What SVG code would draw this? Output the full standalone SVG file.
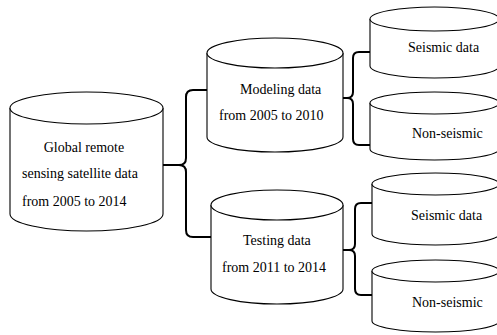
<svg xmlns="http://www.w3.org/2000/svg" width="497" height="335" viewBox="0 0 497 335">
  <style>
    .cyl { fill: #ffffff; stroke: #000000; stroke-width: 1.1; }
    .lbl { font-family: "Liberation Serif", "Times New Roman", serif; font-size: 14px; fill: #000000; }
    .brace { fill: none; stroke: #000000; stroke-width: 2; stroke-linejoin: round; }
  </style>
  <rect width="497" height="335" fill="#ffffff"/>

  <!-- connectors: curly braces splitting each data set -->
  <g id="connectors">
    <path class="brace" d="M163,165 H179 Q186,165 186,158 V97 Q186,90 193,90 H207 M179,165 Q186,165 186,172 V230 Q186,237 193,237 H211"/>
    <path class="brace" d="M343,98 H347 Q353,98 353,92 V58 Q353,52 359,52 H370 M347,98 Q353,98 353,104 V139 Q353,145 359,145 H370"/>
    <path class="brace" d="M343,250 H349 Q355,250 355,244 V209 Q355,203 361,203 H372 M349,250 Q355,250 355,256 V289 Q355,295 361,295 H372"/>
  </g>

  <!-- source data -->
  <g id="global">
    <path class="cyl" d="M10,108 V214 A76.5,17 0 0 0 163,214 V108"/>
    <ellipse class="cyl" cx="86.5" cy="108" rx="76.5" ry="16"/>
    <text class="lbl" x="84" y="152" text-anchor="middle">Global remote</text>
    <text class="lbl" x="22" y="178">sensing satellite data</text>
    <text class="lbl" x="22" y="206">from 2005 to 2014</text>
  </g>

  <g id="modeling">
    <path class="cyl" d="M207,53 V137 A68,15 0 0 0 343,137 V53"/>
    <ellipse class="cyl" cx="275" cy="53" rx="68" ry="15"/>
    <text class="lbl" x="240" y="94">Modeling data</text>
    <text class="lbl" x="219" y="120">from 2005 to 2010</text>
  </g>

  <g id="testing">
    <path class="cyl" d="M211,205 V289 A66,15 0 0 0 343,289 V205"/>
    <ellipse class="cyl" cx="277" cy="205" rx="66" ry="15"/>
    <text class="lbl" x="243" y="245">Testing data</text>
    <text class="lbl" x="222" y="272">from 2011 to 2014</text>
  </g>

  <!-- the split sets run past the right edge of the sheet -->
  <g id="modeling-seismic">
    <path class="cyl" d="M370,19 V66 A64.5,12 0 0 0 499,66 V19"/>
    <ellipse class="cyl" cx="434.5" cy="19" rx="64.5" ry="12"/>
    <text class="lbl" x="408" y="52">Seismic data</text>
  </g>

  <g id="modeling-nonseismic">
    <path class="cyl" d="M370,103 V149 A64.5,11 0 0 0 499,149 V103"/>
    <ellipse class="cyl" cx="434.5" cy="103" rx="64.5" ry="11"/>
    <text class="lbl" x="412" y="138">Non-seismic</text>
  </g>

  <g id="testing-seismic">
    <path class="cyl" d="M372,184 V234 A63.5,11 0 0 0 499,234 V184"/>
    <ellipse class="cyl" cx="435.5" cy="184" rx="63.5" ry="11"/>
    <text class="lbl" x="411" y="220">Seismic data</text>
  </g>

  <g id="testing-nonseismic">
    <path class="cyl" d="M372,271 V321 A63.5,11 0 0 0 499,321 V271"/>
    <ellipse class="cyl" cx="435.5" cy="271" rx="63.5" ry="11"/>
    <text class="lbl" x="412" y="307">Non-seismic</text>
  </g>
</svg>
